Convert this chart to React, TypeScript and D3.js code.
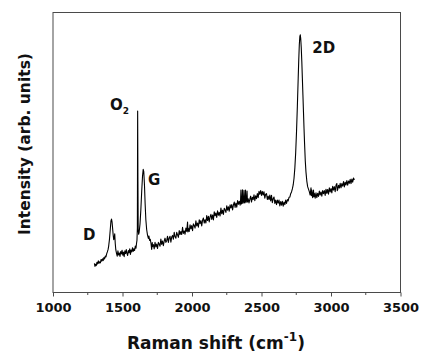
import React, { useEffect, useRef } from 'react';
import * as d3 from 'd3';

// Raman shift (cm-1) axis ticks
const majorTicks = [1000, 1500, 2000, 2500, 3000, 3500];
const minorTicks = [1250, 1750, 2250, 2750, 3250];

// peak annotations: label, shift (left edge), intensity (baseline)
const peakNames = ['D', 'O', 'G', '2D'];
const peakShift = [1215, 1410, 1683, 2866];
const peakLevel = [18.7, 65.1, 38.4, 85.5];

// spectrum: [shift, intensity (arb.)]
const spectrum: [number, number][] = [
  [1298, 10.4], [1302, 9.3], [1306, 10.1], [1311, 9.6], [1316, 10.8], [1321, 10.2],
  [1326, 11.3], [1331, 10.4], [1336, 11.0], [1341, 10.6], [1346, 11.8], [1351, 11.2],
  [1356, 12.0], [1361, 11.4], [1366, 12.5], [1371, 12.0], [1376, 13.0], [1381, 12.7],
  [1386, 13.8], [1391, 14.5], [1396, 15.3], [1400, 16.4], [1406, 18.9], [1412, 22.5],
  [1417, 25.6], [1421, 26.2], [1425, 25.1], [1429, 22.8], [1433, 20.5], [1437, 18.9],
  [1441, 19.8], [1444, 21.0], [1448, 17.4], [1452, 15.2], [1457, 14.0], [1462, 13.0],
  [1467, 14.9], [1472, 13.4], [1477, 14.1], [1482, 12.9], [1487, 14.6], [1492, 13.8],
  [1497, 15.1], [1502, 13.3], [1507, 14.4], [1512, 12.8], [1517, 14.9], [1522, 13.9],
  [1527, 15.3], [1532, 14.0], [1537, 13.2], [1542, 15.0], [1547, 14.2], [1552, 15.6],
  [1557, 13.6], [1562, 15.2], [1567, 14.5], [1572, 16.0], [1577, 14.7], [1582, 15.6],
  [1587, 15.0], [1592, 16.6], [1597, 15.8], [1601, 17.6], [1604, 18.6], [1607, 23.0],
  [1609, 64.8], [1611, 40.0], [1613, 22.5], [1616, 20.8], [1620, 21.6], [1626, 24.5],
  [1632, 29.5], [1638, 36.0], [1644, 41.5], [1649, 44.0], [1653, 43.2], [1658, 38.5],
  [1663, 31.5], [1668, 26.0], [1674, 22.4], [1680, 20.5], [1686, 19.3], [1690, 20.2],
  [1695, 18.6], [1700, 19.0], [1705, 17.5], [1710, 15.4], [1714, 17.8], [1716, 16.4],
  [1722, 17.1], [1728, 15.6], [1734, 17.9], [1740, 16.3], [1746, 17.3], [1752, 15.7],
  [1758, 17.9], [1764, 17.3], [1770, 16.5], [1776, 19.1], [1782, 17.2], [1788, 18.4],
  [1794, 16.7], [1800, 18.4], [1806, 19.4], [1812, 17.9], [1818, 18.5], [1824, 20.1],
  [1830, 17.9], [1836, 19.5], [1842, 20.1], [1848, 18.0], [1854, 19.8], [1860, 20.4],
  [1866, 19.0], [1872, 21.5], [1878, 19.9], [1884, 19.4], [1890, 21.5], [1896, 20.6],
  [1902, 19.7], [1908, 22.1], [1914, 20.7], [1920, 21.8], [1926, 20.7], [1932, 23.3],
  [1938, 21.1], [1944, 22.0], [1950, 20.8], [1956, 23.0], [1962, 21.8], [1968, 25.2],
  [1971, 21.6], [1974, 22.9], [1980, 21.8], [1986, 24.2], [1992, 22.7], [1998, 23.9],
  [2004, 22.1], [2010, 24.5], [2016, 23.9], [2022, 23.0], [2028, 25.6], [2034, 23.8],
  [2040, 24.8], [2046, 23.3], [2052, 26.0], [2058, 24.6], [2064, 25.7], [2070, 23.8],
  [2076, 25.8], [2082, 26.6], [2088, 24.8], [2094, 26.0], [2100, 24.8], [2106, 27.5],
  [2112, 25.7], [2118, 27.2], [2124, 25.2], [2130, 27.0], [2136, 27.9], [2142, 26.1],
  [2148, 27.7], [2154, 25.9], [2160, 28.8], [2166, 27.4], [2172, 28.4], [2178, 26.8],
  [2184, 29.2], [2190, 27.6], [2196, 28.6], [2202, 27.3], [2208, 30.2], [2214, 28.1],
  [2220, 29.4], [2226, 27.9], [2232, 30.1], [2238, 29.5], [2244, 28.6], [2250, 31.0],
  [2256, 29.4], [2262, 30.6], [2268, 29.0], [2274, 31.3], [2280, 30.2], [2286, 31.4],
  [2292, 29.5], [2298, 31.3], [2304, 32.3], [2310, 30.4], [2316, 31.9], [2322, 30.5],
  [2328, 32.8], [2334, 31.5], [2340, 32.6], [2346, 31.2], [2349, 32.4], [2352, 36.6],
  [2355, 31.6], [2360, 32.6], [2363, 36.7], [2366, 31.8], [2371, 32.7], [2374, 36.5],
  [2377, 32.0], [2382, 32.9], [2385, 36.6], [2388, 32.1], [2393, 33.1], [2396, 36.2],
  [2399, 32.3], [2404, 33.5], [2410, 32.0], [2416, 33.3], [2422, 34.4], [2428, 32.3],
  [2434, 34.0], [2440, 33.2], [2446, 34.9], [2452, 32.8], [2458, 34.5], [2464, 33.5],
  [2470, 35.3], [2476, 33.9], [2482, 36.1], [2488, 35.1], [2494, 36.4], [2500, 34.7],
  [2506, 36.1], [2512, 34.8], [2518, 36.0], [2524, 33.7], [2530, 35.1], [2536, 35.3],
  [2542, 33.2], [2548, 34.4], [2554, 33.2], [2560, 34.8], [2566, 32.7], [2572, 34.7],
  [2578, 32.1], [2584, 33.5], [2590, 34.1], [2596, 31.8], [2602, 33.0], [2608, 31.4],
  [2614, 33.0], [2620, 31.9], [2626, 33.0], [2632, 30.9], [2638, 32.5], [2644, 31.2],
  [2650, 32.6], [2656, 30.8], [2662, 32.3], [2668, 31.4], [2674, 33.0], [2680, 31.8],
  [2686, 33.2], [2692, 32.7], [2698, 34.0], [2704, 34.1], [2710, 35.3], [2716, 35.9],
  [2722, 37.0], [2728, 38.4], [2734, 40.8], [2740, 44.5], [2746, 50.0], [2752, 57.5],
  [2758, 66.5], [2764, 76.5], [2768, 83.0], [2772, 88.5], [2776, 91.5], [2779, 92.0],
  [2782, 90.8], [2786, 87.5], [2790, 82.5], [2794, 76.5], [2798, 70.5], [2802, 64.5],
  [2806, 58.5], [2810, 53.0], [2815, 47.0], [2820, 43.0], [2826, 39.8], [2832, 37.8],
  [2838, 36.9], [2844, 36.0], [2850, 34.8], [2856, 37.4], [2859, 34.6], [2862, 36.6],
  [2868, 33.9], [2874, 36.6], [2877, 34.2], [2880, 35.4], [2886, 33.7], [2892, 35.6],
  [2898, 33.9], [2904, 35.4], [2910, 34.3], [2916, 36.2], [2922, 34.8], [2928, 35.9],
  [2934, 34.4], [2940, 36.4], [2946, 35.3], [2952, 36.4], [2958, 34.7], [2964, 36.9],
  [2970, 35.4], [2976, 36.8], [2982, 35.1], [2988, 37.4], [2994, 35.9], [3000, 37.1],
  [3006, 35.6], [3012, 37.9], [3018, 36.6], [3024, 37.8], [3030, 36.0], [3036, 38.3],
  [3042, 38.9], [3045, 36.4], [3048, 36.7], [3054, 38.3], [3060, 37.3], [3066, 39.0],
  [3072, 37.4], [3078, 38.9], [3084, 38.0], [3090, 39.6], [3096, 37.7], [3102, 39.4],
  [3108, 38.4], [3114, 40.0], [3120, 38.3], [3126, 39.8], [3132, 39.0], [3138, 40.4],
  [3144, 38.9], [3150, 40.5], [3156, 39.4], [3162, 40.9], [3168, 40.2],
];

const W = 423;
const H = 356;
const FONT = '"DejaVu Sans", sans-serif';

export default function App() {
  const svgRef = useRef<SVGSVGElement>(null);

  useEffect(() => {
    const margin = { top: 12.5, right: 22.5, bottom: 63.5, left: 53 };
    const width = W - margin.left - margin.right;
    const height = H - margin.top - margin.bottom;

    const root = d3.select(svgRef.current);
    root.selectAll('*').remove();
    const svg = root.append('g').attr('transform', `translate(${margin.left},${margin.top})`);

    const x = d3.scaleLinear().domain([1000, 3500]).range([0, width]);
    const y = d3.scaleLinear().domain([0, 100]).range([height, 0]);

    const axisColor = '#4a4a4a';

    // frame
    svg.append('rect')
      .attr('width', width)
      .attr('height', height)
      .attr('fill', 'none')
      .attr('stroke', axisColor)
      .attr('stroke-width', 1);

    // bottom axis, ticks outward
    const xAxis = svg.append('g')
      .attr('transform', `translate(0,${height})`)
      .call(d3.axisBottom(x).tickValues(majorTicks).tickSize(4).tickPadding(6).tickFormat(d3.format('d')));
    xAxis.select('.domain').remove();
    xAxis.selectAll('.tick line').attr('stroke', axisColor);
    xAxis.selectAll('.tick text')
      .attr('fill', '#111')
      .style('font-family', FONT)
      .style('font-weight', 'bold')
      .style('font-size', '13px');

    svg.append('g')
      .attr('transform', `translate(0,${height})`)
      .selectAll('line')
      .data(minorTicks)
      .join('line')
      .attr('x1', d => x(d))
      .attr('x2', d => x(d))
      .attr('y1', 0)
      .attr('y2', 2.5)
      .attr('stroke', axisColor);

    // spectrum
    const line = d3.line<[number, number]>()
      .x(d => x(d[0]))
      .y(d => y(d[1]));

    svg.append('path')
      .datum(spectrum)
      .attr('fill', 'none')
      .attr('stroke', '#000')
      .attr('stroke-width', 1.1)
      .attr('stroke-linejoin', 'round')
      .attr('d', line);

    // peak labels
    const labels = svg.append('g')
      .style('font-family', FONT)
      .style('font-weight', 'bold')
      .style('font-size', '15px')
      .attr('fill', '#111');

    peakNames.forEach((name, i) => {
      const t = labels.append('text')
        .attr('x', x(peakShift[i]))
        .attr('y', y(peakLevel[i]))
        .text(name);
      if (name === 'O') {
        t.append('tspan').attr('dy', 4).style('font-size', '9px').text('2');
      }
    });

    // axis titles
    const xt = root.append('text')
      .attr('x', 216)
      .attr('y', 349)
      .attr('text-anchor', 'middle')
      .style('font-family', FONT)
      .style('font-weight', 'bold')
      .style('font-size', '17px')
      .attr('fill', '#111')
      .text('Raman shift (cm');
    xt.append('tspan').attr('dy', -8).style('font-size', '12px').text('-1');
    xt.append('tspan').attr('dy', 8).text(')');

    root.append('text')
      .attr('transform', `translate(29.5,144) rotate(-90)`)
      .attr('text-anchor', 'middle')
      .style('font-family', FONT)
      .style('font-weight', 'bold')
      .style('font-size', '15.5px')
      .attr('fill', '#111')
      .text('Intensity (arb. units)');
  }, []);

  return (
    <svg
      ref={svgRef}
      width={W}
      height={H}
      style={{ position: 'absolute', left: 0, top: 0, background: '#fff' }}
    />
  );
}
